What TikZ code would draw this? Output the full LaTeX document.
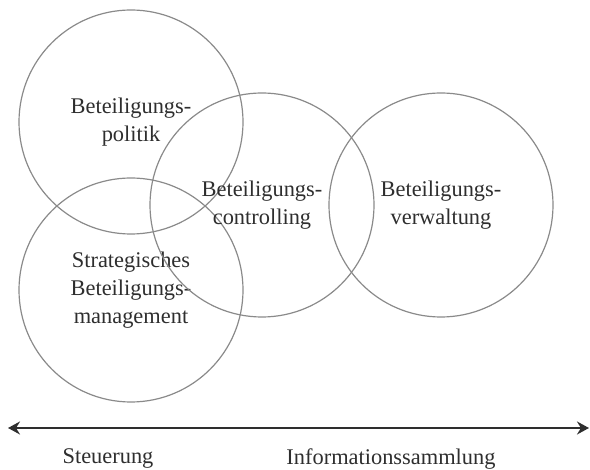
\documentclass[tikz,border=0pt]{standalone}
\usepackage{fontspec}
\setmainfont{Liberation Serif}
\usetikzlibrary{arrows.meta}
\definecolor{ringgray}{HTML}{8A8A8A}
\definecolor{textgray}{HTML}{2E2E2E}
\begin{document}
\begin{tikzpicture}[x=0.5pt, y=-0.5pt,
    bereich/.style={circle, draw=ringgray, line width=0.6pt, minimum size=112pt, inner sep=0pt,
      align=center, text=textgray, font=\fontsize{11.2}{14}\selectfont},
    achse/.style={draw=textgray, line width=1.1pt, {Stealth[length=6pt, width=6.5pt, inset=2pt]}-{Stealth[length=6pt, width=6.5pt, inset=2pt]}},
    pol/.style={text=textgray, font=\fontsize{11.2}{14}\selectfont}]
    \useasboundingbox (0,0) rectangle (590,470);

    % Kreise
    \node[bereich] (politik) at (131,122) {Beteiligungs-\\politik};
    \node[bereich] (strat) at (131,290) {Strategisches\\Beteiligungs-\\management};
    \node[bereich] (contr) at (262,205) {Beteiligungs-\\controlling};
    \node[bereich] (verw) at (441,205) {Beteiligungs-\\verwaltung};

    % Achse
    \coordinate (links) at (8,428);
    \coordinate (rechts) at (589,428);
    \draw[achse] (links) -- (rechts);
    \node[pol] (steuer) at (108,459) {Steuerung};
    \node[pol] (info) at (391,459) {Informationssammlung};
  \end{tikzpicture}
\end{document}
